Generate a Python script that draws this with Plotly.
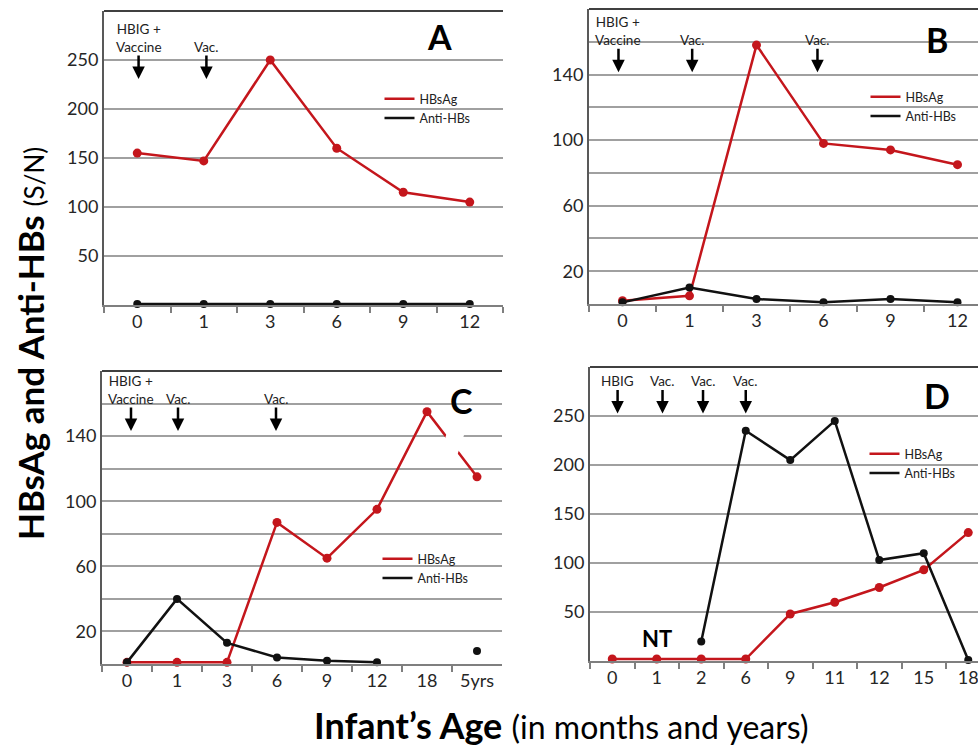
import plotly.graph_objects as go

# ---------------- data ----------------
months_a = ["0", "1", "3", "6", "9", "12"]
hbsag_a = [155, 147, 250, 160, 115, 105]
anti_a = [1, 1, 1, 1, 1, 1]

months_b = ["0", "1", "3", "6", "9", "12"]
hbsag_b = [2, 5, 158, 98, 94, 85]
anti_b = [1, 10, 3, 1, 3, 1]

months_c = ["0", "1", "3", "6", "9", "12", "18", "5yrs"]
hbsag_c = [1, 1, 1, 87, 65, 95, 155, 115]
anti_c = [1, 40, 13, 4, 2, 1, None, 8]

months_d = ["0", "1", "2", "6", "9", "11", "12", "15", "18"]
hbsag_d = [2, 2, 2, 2, 48, 60, 75, 93, 131]
anti_d = [None, None, 20, 235, 205, 245, 103, 110, 1]

# vaccination events: (position along the category axis, label)
events_a = [(0.02, "HBIG +<br>Vaccine"), (1.04, "Vac.")]
events_b = [(-0.06, "HBIG +<br>Vaccine"), (1.04, "Vac."), (2.91, "Vac.")]
events_c = [(0.08, "HBIG +<br>Vaccine"), (1.02, "Vac."), (2.98, "Vac.")]
events_d = [(0.12, "HBIG"), (1.13, "Vac."), (2.04, "Vac."), (3.0, "Vac.")]

RED = "#c4161c"
BLACK = "#111111"
GRID = "#a0a0a0"
FONT = "Lato"
W, H = 978, 750

fig = go.Figure()

panels = [
    dict(k="", months=months_a, hb=hbsag_a, an=anti_a, ev=events_a,
         xd=(104, 503), yd=(11, 305), yr=300, tv=[50, 100, 150, 200, 250], mv=None,
         vis=6.0, letter="A", lpos=(0.842, 0.912), tip=0.769, leg=(385, 98)),
    dict(k="2", months=months_b, hb=hbsag_b, an=anti_b, ev=events_b,
         xd=(589, 978), yd=(9, 304), yr=180, tv=[20, 60, 100, 140], mv=[40, 80, 120, 160],
         vis=(978 - 589) / 67.0, letter="B", lpos=(0.895, 0.898), tip=0.786, leg=(871, 96)),
    dict(k="3", months=months_c, hb=hbsag_c, an=anti_c, ev=events_c,
         xd=(102, 502), yd=(371, 664), yr=180, tv=[20, 60, 100, 140], mv=[40, 80, 120, 160],
         vis=8.0, letter="C", lpos=(0.9, 0.901), tip=0.795, leg=(383, 558)),
    dict(k="4", months=months_d, hb=hbsag_d, an=anti_d, ev=events_d,
         xd=(590, 978), yd=(367, 661), yr=300, tv=[50, 100, 150, 200, 250], mv=None,
         vis=(978 - 590) / 44.5, letter="D", lpos=(0.894, 0.903), tip=0.842, leg=(870, 453)),
]

for p in panels:
    k = p["k"]
    xa, ya = "x" + k, "y" + k
    leg = "legend" + k
    fig.add_trace(go.Scatter(
        x=p["months"], y=p["hb"], xaxis=xa, yaxis=ya, mode="lines+markers",
        line=dict(color=RED, width=2.5), marker=dict(color=RED, size=9),
        cliponaxis=False, showlegend=False, connectgaps=False))
    fig.add_trace(go.Scatter(
        x=p["months"], y=p["an"], xaxis=xa, yaxis=ya, mode="lines+markers",
        line=dict(color=BLACK, width=2.5), marker=dict(color=BLACK, size=8),
        cliponaxis=False, showlegend=False, connectgaps=False))
    # legend keys (line only)
    fig.add_trace(go.Scatter(x=[None], y=[None], xaxis=xa, yaxis=ya, mode="lines",
                             name="HBsAg", line=dict(color=RED, width=2.5), legend=leg))
    fig.add_trace(go.Scatter(x=[None], y=[None], xaxis=xa, yaxis=ya, mode="lines",
                             name="Anti-HBs", line=dict(color=BLACK, width=2.5), legend=leg))

    x0, x1 = p["xd"]
    yt, yb = p["yd"]
    fig.layout["xaxis" + k] = dict(
        domain=[x0 / W, x1 / W], anchor=ya, type="category",
        categoryorder="array", categoryarray=p["months"],
        range=[-0.5, -0.5 + p["vis"]], showline=True, linecolor="#7f7f7f", linewidth=1.5,
        ticks="outside", tickson="boundaries", ticklen=6, tickcolor="#7f7f7f", tickwidth=1.5,
        showgrid=False, zeroline=False,
        tickfont=dict(family=FONT, size=18, color="#262626"), fixedrange=True)
    ydict = dict(
        domain=[1 - yb / H, 1 - yt / H], anchor=xa, range=[0, p["yr"]],
        tickvals=p["tv"], showline=True, linecolor="#595959", linewidth=2,
        showgrid=True, gridcolor=GRID, gridwidth=1.5, zeroline=False, ticks="",
        tickfont=dict(family=FONT, size=18, color="#262626"), fixedrange=True)
    if p["mv"]:
        ydict["minor"] = dict(tickvals=p["mv"], showgrid=True, gridcolor=GRID, gridwidth=1.5, ticks="")
    fig.layout["yaxis" + k] = ydict

    # top frame line
    fig.add_shape(type="line", xref=xa + " domain", yref=ya + " domain",
                  x0=0, x1=1, y0=1, y1=1, line=dict(color="#404040", width=2))

    # panel letter
    fig.add_annotation(xref=xa + " domain", yref=ya + " domain", x=p["lpos"][0], y=p["lpos"][1],
                       xanchor="center", yanchor="middle",
                       text="<b>%s</b>" % p["letter"], showarrow=False,
                       font=dict(family=FONT, size=34, color="black"))

    # vaccination arrows with labels
    for pos, label in p["ev"]:
        fig.add_annotation(xref=xa, yref=ya + " domain", x=pos, y=p["tip"], text="",
                           showarrow=True, ax=0, ay=-25, arrowhead=2, arrowsize=1,
                           arrowwidth=2.5, arrowcolor="black")
        fig.add_annotation(xref=xa, yref=ya + " domain", x=pos, y=p["tip"], text=label,
                           showarrow=False, xanchor="center", yanchor="bottom", yshift=22,
                           font=dict(family=FONT, size=13.5, color="#222"))

    # legend box placement
    lx, ly = p["leg"]
    fig.layout[leg] = dict(x=(lx - 5.5) / W, y=1 - (ly - 14) / H, xanchor="left", yanchor="top",
                           bgcolor="rgba(0,0,0,0)", borderwidth=0,
                           font=dict(family=FONT, size=12.5, color="#222"),
                           itemclick=False, itemdoubleclick=False, tracegroupgap=0)

# axis break on the 18 -> 5yrs segment of panel C
xm = (months_c.index("18") + months_c.index("5yrs")) / 2
ym = (hbsag_c[-2] + hbsag_c[-1]) / 2
fig.add_shape(type="line", xref="x3", yref="y3", layer="above",
              x0=xm - 0.134, y0=ym - 12.2, x1=xm + 0.134, y1=ym + 12.2,
              line=dict(color="white", width=17))

# "not tested" marker in panel D
fig.add_annotation(xref="x4", yref="y4", x="1", y=23, text="<b>NT</b>", showarrow=False,
                   xanchor="center", yanchor="middle",
                   font=dict(family=FONT, size=22, color="black"))

# shared axis titles
fig.add_annotation(xref="paper", yref="paper", x=30 / W, y=1 - 344 / H, textangle=-90,
                   xanchor="center", yanchor="middle",
                   text="<b>HBsAg and Anti-HBs</b> <span style='font-size:26px'>(S/N)</span>",
                   showarrow=False, font=dict(family=FONT, size=35, color="black"))
fig.add_annotation(xref="paper", yref="paper", x=561 / W, y=1 - 725 / H,
                   xanchor="center", yanchor="middle",
                   text="<b>Infant\u2019s Age</b> <span style='font-size:32px'>(in months and years)</span>",
                   showarrow=False, font=dict(family=FONT, size=36, color="black"))

fig.update_layout(width=W, height=H, margin=dict(l=0, r=0, t=0, b=0),
                  paper_bgcolor="white", plot_bgcolor="white", showlegend=True)

fig.write_html("out.html")
